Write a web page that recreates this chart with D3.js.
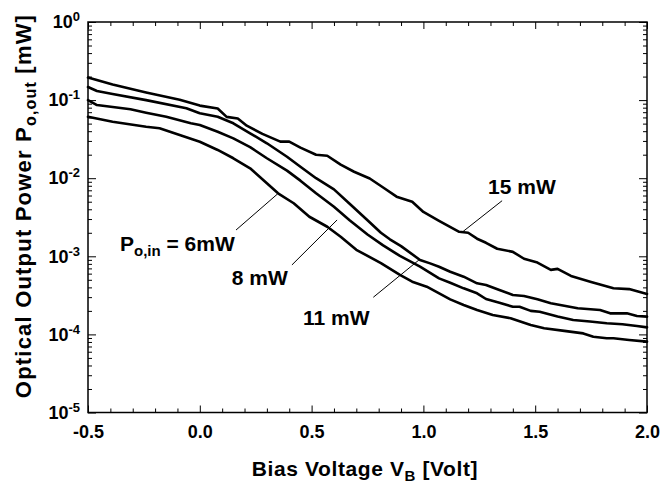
<!DOCTYPE html>
<html>
<head>
<meta charset="utf-8">
<script src="https://cdn.jsdelivr.net/npm/d3@7"></script>
<style>
  html, body { margin: 0; padding: 0; background: #fff; }
  svg { display: block; font-family: Arial, "Liberation Sans", Helvetica, sans-serif; font-weight: bold; }
  .axis text { font-size: 18px; font-weight: bold; fill: #000; }
  .axis line { stroke: #000; stroke-width: 1; }
  .curve { fill: none; stroke: #000; stroke-width: 2.6; stroke-linejoin: round; stroke-linecap: round; }
  .leader { stroke: #000; stroke-width: 1; }
</style>
</head>
<body>
<svg id="chart" width="661" height="483"></svg>
<script>
// bias voltage [V] vs optical output power [mW], one list per input power
const p15 = [
  [-0.5, 0.194], [-0.39, 0.158], [-0.24, 0.125], [-0.09, 0.101], [0.0, 0.085], [0.08, 0.078],
  [0.12, 0.061], [0.17, 0.058], [0.21, 0.047], [0.28, 0.037], [0.36, 0.0294], [0.40, 0.0294],
  [0.45, 0.0246], [0.52, 0.020], [0.57, 0.0194], [0.63, 0.0149], [0.69, 0.0121], [0.76, 0.0099],
  [0.82, 0.0076], [0.88, 0.0058], [0.95, 0.0050], [1.0, 0.0037], [1.07, 0.00285], [1.16, 0.00206],
  [1.20, 0.0020], [1.24, 0.00168], [1.28, 0.00149], [1.33, 0.00125], [1.40, 0.00114], [1.45, 0.00093],
  [1.51, 0.00083], [1.57, 0.00067], [1.60, 0.00069], [1.66, 0.00056], [1.75, 0.00047], [1.85, 0.00039],
  [1.92, 0.00038], [2.0, 0.00033]
];
const p11 = [
  [-0.5, 0.147], [-0.46, 0.131], [-0.39, 0.120], [-0.24, 0.100], [-0.06, 0.0785], [0.0, 0.0678],
  [0.08, 0.0612], [0.15, 0.0505], [0.225, 0.0376], [0.30, 0.0280], [0.39, 0.0188], [0.45, 0.0140],
  [0.52, 0.0100], [0.60, 0.0072], [0.67, 0.0047], [0.75, 0.0029], [0.81, 0.0020], [0.85, 0.00165],
  [0.90, 0.00135], [0.985, 0.000897], [1.03, 0.000812], [1.07, 0.000736], [1.12, 0.000635],
  [1.18, 0.000548], [1.24, 0.000451], [1.28, 0.000429], [1.34, 0.000371], [1.40, 0.000319],
  [1.45, 0.000310], [1.51, 0.000281], [1.57, 0.000250], [1.69, 0.000216], [1.79, 0.000205],
  [1.835, 0.000186], [1.91, 0.000186], [1.955, 0.000172], [2.0, 0.000169]
];
const p8 = [
  [-0.5, 0.100], [-0.46, 0.0865], [-0.31, 0.0762], [-0.24, 0.0690], [-0.15, 0.0612], [-0.04, 0.0505],
  [0.0, 0.0480], [0.08, 0.0394], [0.15, 0.0324], [0.225, 0.0250], [0.30, 0.0180], [0.39, 0.0125],
  [0.45, 0.0093], [0.52, 0.0064], [0.60, 0.0043], [0.67, 0.0029], [0.75, 0.0019], [0.82, 0.00138],
  [0.895, 0.00101], [0.985, 0.000736], [1.07, 0.000522], [1.12, 0.000459], [1.18, 0.000389],
  [1.24, 0.000336], [1.28, 0.000284], [1.34, 0.000255], [1.40, 0.000226], [1.43, 0.000226],
  [1.48, 0.000200], [1.52, 0.000195], [1.60, 0.000169], [1.67, 0.000153], [1.745, 0.000146],
  [1.82, 0.000139], [1.89, 0.000135], [1.955, 0.000128], [2.0, 0.000123]
];
const p6 = [
  [-0.5, 0.0612], [-0.39, 0.0528], [-0.24, 0.0456], [-0.18, 0.0435], [-0.09, 0.0357], [0.0, 0.0293],
  [0.08, 0.0230], [0.15, 0.0180], [0.225, 0.0134], [0.30, 0.00861], [0.35, 0.00641], [0.42, 0.00478],
  [0.49, 0.00321], [0.57, 0.00239], [0.63, 0.00178], [0.70, 0.00121], [0.81, 0.00082], [0.895, 0.000577],
  [0.95, 0.000473], [1.015, 0.000408], [1.12, 0.000281], [1.18, 0.000238], [1.24, 0.000205],
  [1.31, 0.000177], [1.39, 0.000161], [1.48, 0.000132], [1.54, 0.000120], [1.63, 0.000111],
  [1.715, 0.000103], [1.76, 0.0000935], [1.82, 0.0000891], [1.85, 0.0000891], [1.92, 0.0000847],
  [2.0, 0.0000808]
];

const xMajor = [-0.5, 0.0, 0.5, 1.0, 1.5, 2.0];
const xLabels = ['-0.5', '0.0', '0.5', '1.0', '1.5', '2.0'];
const yMajor = [1, 1e-1, 1e-2, 1e-3, 1e-4, 1e-5];
const yExp = ['0', '-1', '-2', '-3', '-4', '-5'];

// label anchor + leader line ends, in data units
const notes = [
  { main: 'P', sub: 'o,in', rest: ' = 6mW', at: [-0.357, 0.00118], from: [0.162, 0.00217], to: [0.3475, 0.00628] },
  { main: '8 mW', at: [0.143, 0.00043], from: [0.412, 0.000775], to: [0.614, 0.00292] },
  { main: '11 mW', at: [0.4615, 0.000132], from: [0.776, 0.000299], to: [0.98, 0.000897] },
  { main: '15 mW', at: [1.289, 0.00628], from: [1.352, 0.00515], to: [1.172, 0.00202] }
];

const svg = d3.select('#chart');
const plotL = 88, plotR = 647, plotT = 22, plotB = 412.5;

const x = d3.scaleLinear().domain([-0.5, 2.0]).range([plotL, plotR]);
const y = d3.scaleLog().domain([1e-5, 1]).range([plotB, plotT]);

const xMinor = d3.range(-4, 20).map((i) => i / 10).filter((v) => !xMajor.some((m) => Math.abs(m - v) < 1e-9));
const yMinor = [];
for (let e = -5; e < 0; e++) {
  for (let k = 2; k <= 9; k++) yMinor.push(k * Math.pow(10, e));
}

function ticks(axis, values, size, pos, label) {
  const g = svg.append('g').attr('class', 'axis').attr('transform', pos);
  g.call(axis.tickValues(values).tickSizeInner(-size).tickSizeOuter(0).tickPadding(label ? 13 : 0)
    .tickFormat(label || (() => '')));
  g.select('.domain').remove();
  return g;
}

// minor + major ticks, all four sides, pointing in
ticks(d3.axisBottom(x), xMinor, 4, `translate(0,${plotB})`);
ticks(d3.axisTop(x), xMinor, 4, `translate(0,${plotT})`);
ticks(d3.axisTop(x), xMajor, 7, `translate(0,${plotT})`);
ticks(d3.axisBottom(x), xMajor, 7, `translate(0,${plotB})`, (d, i) => xLabels[i]);

ticks(d3.axisLeft(y), yMinor, 4, `translate(${plotL},0)`);
ticks(d3.axisRight(y), yMinor, 4, `translate(${plotR},0)`);
ticks(d3.axisRight(y), yMajor, 8, `translate(${plotR},0)`);
const yAx = ticks(d3.axisLeft(y), yMajor, 8, `translate(${plotL},0)`, () => '10');
yAx.selectAll('.tick text')
  .attr('x', -8)
  .each(function (d, i) {
    const t = d3.select(this).text('');
    t.append('tspan').text('10');
    t.append('tspan').attr('dy', -7).style('font-size', '13px').text(yExp[i]);
  });

// frame
svg.append('rect')
  .attr('x', plotL).attr('y', plotT)
  .attr('width', plotR - plotL).attr('height', plotB - plotT)
  .attr('fill', 'none').attr('stroke', '#000').attr('stroke-width', 1.5);

// curves
const line = d3.line().x((d) => x(d[0])).y((d) => y(d[1]));
svg.append('g')
  .selectAll('path')
  .data([p6, p8, p11, p15])
  .join('path')
  .attr('class', 'curve')
  .attr('d', line);

// annotations
const ng = svg.append('g');
for (const n of notes) {
  ng.append('line')
    .attr('class', 'leader')
    .attr('x1', x(n.from[0])).attr('y1', y(n.from[1]))
    .attr('x2', x(n.to[0])).attr('y2', y(n.to[1]));
  const t = ng.append('text')
    .attr('x', x(n.at[0])).attr('y', y(n.at[1]))
    .style('font-size', '21px');
  t.append('tspan').text(n.main);
  if (n.sub) {
    t.append('tspan').attr('dy', 5).style('font-size', '15px').text(n.sub);
    t.append('tspan').attr('dy', -5).text(n.rest);
  }
}

// axis titles
const xt = svg.append('text')
  .attr('x', 365).attr('y', 476)
  .attr('text-anchor', 'middle')
  .style('font-size', '21px')
  .style('letter-spacing', '0.6px');
xt.append('tspan').text('Bias Voltage V');
xt.append('tspan').attr('dy', 5).style('font-size', '15px').text('B');
xt.append('tspan').attr('dy', -5).text(' [Volt]');

const yt = svg.append('text')
  .attr('transform', `translate(31,${206}) rotate(-90)`)
  .attr('text-anchor', 'middle')
  .style('font-size', '22px')
  .style('letter-spacing', '1.2px');
yt.append('tspan').text('Optical Output Power P');
yt.append('tspan').attr('dy', 5).style('font-size', '16px').text('o,out');
yt.append('tspan').attr('dy', -5).text(' [mW]');
</script>
</body>
</html>
